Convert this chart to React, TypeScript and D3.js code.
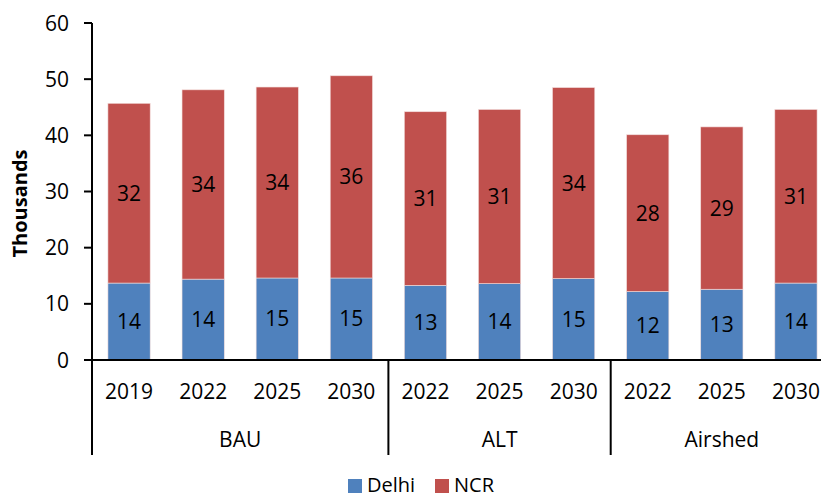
import React from 'react';
import * as d3 from 'd3';

const years = ['2019', '2022', '2025', '2030', '2022', '2025', '2030', '2022', '2025', '2030'];
const groups = ['BAU', 'BAU', 'BAU', 'BAU', 'ALT', 'ALT', 'ALT', 'Airshed', 'Airshed', 'Airshed'];
const groupNames = ['BAU', 'ALT', 'Airshed'];
const delhi = [13.7, 14.4, 14.6, 14.6, 13.3, 13.6, 14.5, 12.2, 12.6, 13.7];
const ncr = [32.0, 33.7, 34.0, 36.0, 30.9, 31.0, 34.0, 27.9, 28.9, 30.9];
const yTicks = [0, 10, 20, 30, 40, 50, 60];

const W = 821;
const H = 497;
const left = 92;
const right = 833;
const top = 23;
const bottom = 360;
const font = "'Open Sans', 'Noto Sans', sans-serif";
const BLUE = '#4F81BD';
const RED = '#C0504D';

const App = () => {
    const idx = years.map((_, i) => i);
    const x = d3.scaleBand<number>().domain(idx).range([left, right]).padding(0);
    const y = d3.scaleLinear().domain([0, 60]).range([bottom, top]);
    const barW = x.bandwidth() * 0.57;

    const stack = d3.stack<number>()
        .keys(['delhi', 'ncr'])
        .value((i, key) => (key === 'delhi' ? delhi[i] : ncr[i]));
    const series = stack(idx);
    const colors = [BLUE, RED];

    // group spans
    const spans = groupNames.map((g) => {
        const members = idx.filter((i) => groups[i] === g);
        const x0 = x(members[0])!;
        const x1 = x(members[members.length - 1])! + x.bandwidth();
        return { g, x0, x1 };
    });

    return (
        <svg width={W} height={H} style={{ position: 'absolute', left: 0, top: 0, background: '#fff' }}
            fontFamily={font}>
            {series.map((s, si) => (
                <g key={s.key}>
                    {s.map((d, i) => {
                        const cx = x(i)! + x.bandwidth() / 2;
                        const yTop = y(d[1]);
                        const yBot = y(d[0]);
                        const v = si === 0 ? delhi[i] : ncr[i];
                        return (
                            <g key={i}>
                                <rect x={cx - barW / 2} y={yTop} width={barW} height={yBot - yTop}
                                    fill={colors[si]} stroke="#f2dcdb" strokeWidth={0.6} />
                                <text x={cx} y={(yTop + yBot) / 2 + 7.5} textAnchor="middle"
                                    fontSize={21} fill="#000">{Math.round(v)}</text>
                            </g>
                        );
                    })}
                </g>
            ))}

            {/* y axis */}
            <line x1={left} x2={left} y1={top} y2={bottom} stroke="#000" strokeWidth={2} />
            {yTicks.map((t) => (
                <g key={t}>
                    <line x1={left - 8} x2={left} y1={y(t)} y2={y(t)} stroke="#000" strokeWidth={2} />
                    <text x={69} y={y(t) + 7.5} textAnchor="end" fontSize={21} fill="#000">{t}</text>
                </g>
            ))}
            <text transform={`translate(27, ${(top + bottom) / 2 + 12}) rotate(-90)`} textAnchor="middle"
                fontSize={20} fontWeight="bold" fill="#000">Thousands</text>

            {/* x axis */}
            <line x1={left} x2={right} y1={bottom} y2={bottom} stroke="#000" strokeWidth={2} />
            {[left, ...spans.map((s) => s.x1)].map((sx, i) => (
                <line key={i} x1={sx} x2={sx} y1={bottom} y2={455} stroke="#000" strokeWidth={2} />
            ))}
            {idx.map((i) => (
                <text key={i} x={x(i)! + x.bandwidth() / 2} y={399} textAnchor="middle" fontSize={21}
                    fill="#000">{years[i]}</text>
            ))}
            {spans.map((s) => (
                <text key={s.g} x={(s.x0 + s.x1) / 2} y={447} textAnchor="middle" fontSize={21}
                    fill="#000">{s.g}</text>
            ))}

            {/* legend */}
            <rect x={348} y={479} width={14} height={14} fill={BLUE} />
            <text x={367} y={492} fontSize={20} fill="#000">Delhi</text>
            <rect x={435} y={479} width={14} height={14} fill={RED} />
            <text x={454} y={492} fontSize={20} fill="#000">NCR</text>
        </svg>
    );
};

export default App;
